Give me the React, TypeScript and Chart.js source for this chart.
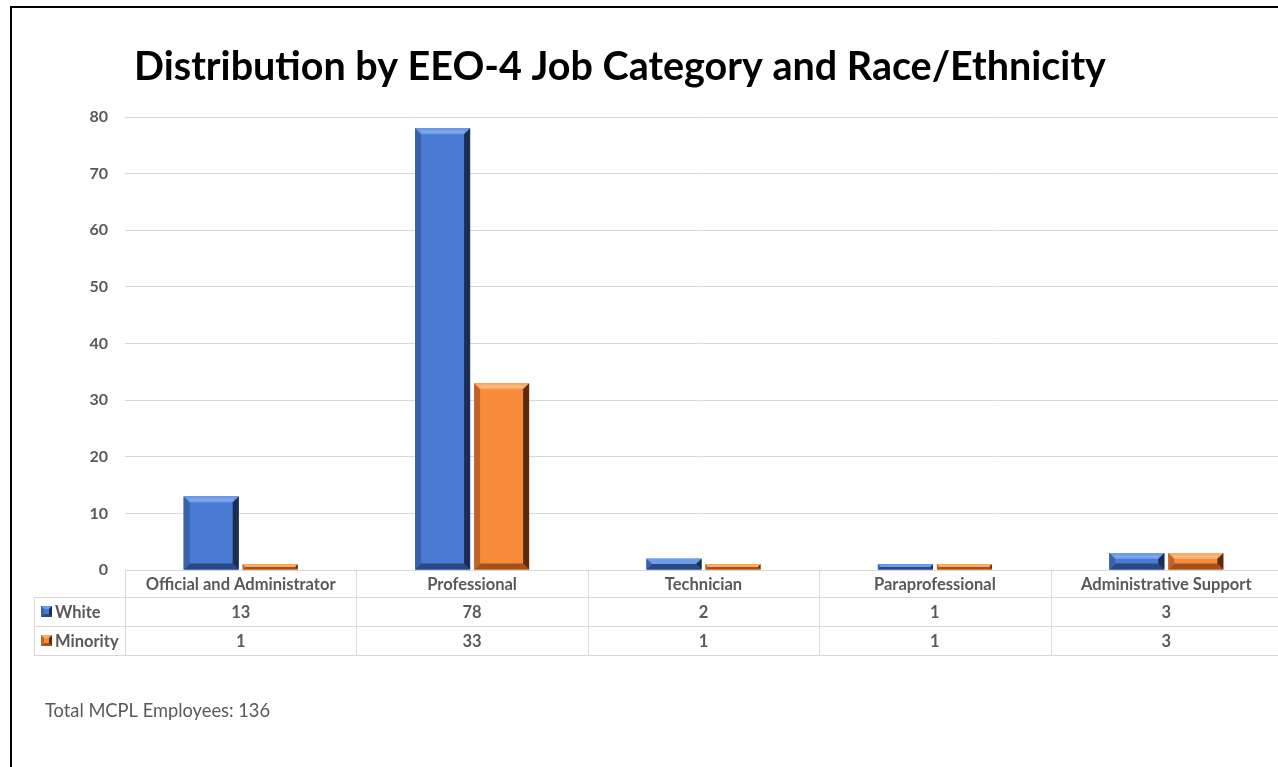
import React, { useEffect, useRef } from "react";
import { Chart, registerables } from "chart.js";

Chart.register(...registerables);

const categories = [
  "Official and Administrator",
  "Professional",
  "Technician",
  "Paraprofessional",
  "Administrative Support",
];
const seriesNames = ["White", "Minority"];
const whiteValues = [13, 78, 2, 1, 3];
const minorityValues = [1, 33, 1, 1, 3];
const yMin = 0;
const yMax = 80;
const yStep = 10;
const titleText = "Distribution by EEO-4 Job Category and Race/Ethnicity";
const footnoteText = "Total MCPL Employees: 136";

const FONT = "Lato, 'Open Sans', sans-serif";
const GRAY = "#595959";
const GRID = "#d9d9d9";

type Bevel = { face: string; top: string; left: string; right: string; bottom: string; hi: string };
const bevels: Bevel[] = [
  { face: "#4a7bd2", top: "#6e9ce8", left: "#3a62ab", right: "#1b2d52", bottom: "#2a4883", hi: "#8db3f0" },
  { face: "#f98a39", top: "#fbab6a", left: "#c0632a", right: "#5a2c0e", bottom: "#a4511b", hi: "#fdc58f" },
];

function drawBevelRect(ctx: CanvasRenderingContext2D, l: number, t: number, r: number, b: number, c: Bevel, maxD: number) {
  const h = b - t;
  const w = r - l;
  if (h <= 0 || w <= 0) return;
  const d = Math.max(1, Math.min(maxD, h / 2, w / 2));
  ctx.save();
  ctx.fillStyle = c.face;
  ctx.fillRect(l, t, w, h);
  const poly = (pts: number[][], col: string) => {
    ctx.beginPath();
    ctx.moveTo(pts[0][0], pts[0][1]);
    for (let i = 1; i < pts.length; i++) ctx.lineTo(pts[i][0], pts[i][1]);
    ctx.closePath();
    ctx.fillStyle = col;
    ctx.fill();
  };
  poly([[l, t], [r, t], [r - d, t + d], [l + d, t + d]], c.top);
  poly([[l, b], [r, b], [r - d, b - d], [l + d, b - d]], c.bottom);
  poly([[l, t], [l + d, t + d], [l + d, b - d], [l, b]], c.left);
  poly([[r, t], [r - d, t + d], [r - d, b - d], [r, b]], c.right);
  if (h > 14) {
    ctx.strokeStyle = c.hi;
    ctx.lineWidth = 1;
    ctx.beginPath();
    ctx.moveTo(l + d, t + d - 2.5);
    ctx.lineTo(r - d, t + d - 2.5);
    ctx.stroke();
  }
  ctx.restore();
}

const bevelPlugin = {
  id: "bevelBars",
  afterDatasetsDraw(chart: any) {
    const ctx = chart.ctx as CanvasRenderingContext2D;
    chart.data.datasets.forEach((_: any, di: number) => {
      const meta = chart.getDatasetMeta(di);
      meta.data.forEach((el: any) => {
        const half = el.width / 2;
        drawBevelRect(ctx, el.x - half, Math.min(el.y, el.base), el.x + half, Math.max(el.y, el.base), bevels[di], 6);
      });
    });
  },
};

const decorPlugin = {
  id: "decor",
  beforeDraw(chart: any) {
    const ctx = chart.ctx as CanvasRenderingContext2D;
    ctx.save();
    ctx.fillStyle = "#ffffff";
    ctx.fillRect(0, 0, chart.width, chart.height);
    ctx.restore();
  },
  afterDraw(chart: any) {
    const ctx = chart.ctx as CanvasRenderingContext2D;
    const ca = chart.chartArea;
    const xs = chart.scales.x;
    const W = chart.width;
    const H = chart.height;
    ctx.save();
    // frame
    ctx.fillStyle = "#000000";
    ctx.fillRect(10, 6, W - 10, 2);
    ctx.fillRect(10, 6, 2, H - 6);

    // title
    ctx.fillStyle = "#000000";
    ctx.font = `bold 39.5px ${FONT}`;
    ctx.textAlign = "center";
    ctx.textBaseline = "middle";
    ctx.fillText(titleText, 620, 67);

    // data table
    const n = categories.length;
    const cw = (xs.getPixelForValue(n - 1) - xs.getPixelForValue(0)) / (n - 1);
    const x0 = xs.getPixelForValue(0) - cw / 2;
    const tableLeft = 34;
    const rowTops = [ca.bottom, ca.bottom + 27, ca.bottom + 56, ca.bottom + 85];
    ctx.strokeStyle = GRID;
    ctx.lineWidth = 1;
    ctx.beginPath();
    ctx.moveTo(x0, rowTops[0] + 0.5);
    ctx.lineTo(W, rowTops[0] + 0.5);
    for (let k = 1; k < rowTops.length; k++) {
      ctx.moveTo(tableLeft, rowTops[k] + 0.5);
      ctx.lineTo(W, rowTops[k] + 0.5);
    }
    ctx.moveTo(tableLeft + 0.5, rowTops[1]);
    ctx.lineTo(tableLeft + 0.5, rowTops[3]);
    for (let i = 0; i <= n; i++) {
      const bx = Math.round(x0 + i * cw) + 0.5;
      ctx.moveTo(bx, rowTops[0]);
      ctx.lineTo(bx, rowTops[3]);
    }
    ctx.stroke();

    ctx.fillStyle = GRAY;
    ctx.font = `bold 16.5px ${FONT}`;
    ctx.textAlign = "center";
    ctx.textBaseline = "middle";
    const rowsVals = [whiteValues, minorityValues];
    categories.forEach((c, i) => {
      const cx = xs.getPixelForValue(i);
      ctx.fillText(c, cx, (rowTops[0] + rowTops[1]) / 2 + 1);
      rowsVals.forEach((vals, r) => {
        ctx.fillText(String(vals[i]), cx, (rowTops[r + 1] + rowTops[r + 2]) / 2 + 1);
      });
    });
    ctx.textAlign = "left";
    seriesNames.forEach((s, r) => {
      const cy = (rowTops[r + 1] + rowTops[r + 2]) / 2;
      drawBevelRect(ctx, 41, cy - 5.5, 52, cy + 5.5, bevels[r], 3);
      ctx.fillStyle = GRAY;
      ctx.fillText(s, 55, cy + 1);
    });

    // footnote
    ctx.font = `18.3px ${FONT}`;
    ctx.fillStyle = GRAY;
    ctx.textAlign = "left";
    ctx.fillText(footnoteText, 45, 711);
    ctx.restore();
  },
};

export default function App() {
  const ref = useRef<HTMLCanvasElement | null>(null);
  useEffect(() => {
    if (!ref.current) return;
    const chart = new Chart(ref.current, {
      type: "bar",
      data: {
        labels: categories,
        datasets: [
          { label: seriesNames[0], data: whiteValues, backgroundColor: bevels[0].face, borderWidth: 0 },
          { label: seriesNames[1], data: minorityValues, backgroundColor: bevels[1].face, borderWidth: 0 },
        ],
      },
      options: {
        responsive: false,
        animation: false,
        devicePixelRatio: 1,
        categoryPercentage: 0.51,
        barPercentage: 0.932,
        layout: { padding: { top: 117, bottom: 197, left: 0, right: 8 } },
        plugins: { legend: { display: false }, title: { display: false }, tooltip: { enabled: false } },
        scales: {
          x: { display: false },
          y: {
            min: yMin,
            max: yMax,
            afterFit: (s: any) => {
              s.width = 125;
            },
            ticks: { stepSize: yStep, color: GRAY, font: { family: FONT, size: 16, weight: "bold" }, padding: 17 },
            grid: { color: GRID, drawTicks: false, lineWidth: 1 },
            border: { display: false },
          },
        },
      },
      plugins: [decorPlugin, bevelPlugin],
    });
    return () => chart.destroy();
  }, []);
  return (
    <div style={{ position: "fixed", left: 0, top: 0, width: 1278, height: 767, overflow: "hidden", background: "#fff" }}>
      <canvas ref={ref} width={1290} height={767} style={{ display: "block" }} />
    </div>
  );
}
